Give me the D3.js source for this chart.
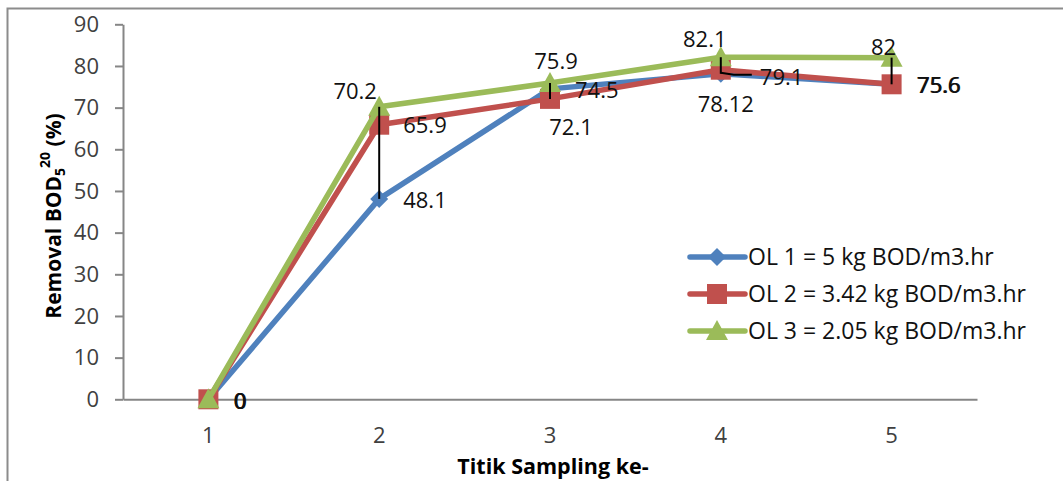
<!DOCTYPE html>
<html>
<head>
<meta charset="utf-8">
<script src="https://cdn.jsdelivr.net/npm/d3@7"></script>
<style>
  html, body { margin: 0; padding: 0; background: #fff; }
  svg { display: block; font-family: "Open Sans", "DejaVu Sans", sans-serif; }
</style>
</head>
<body>
<svg id="chart" width="1063" height="481"></svg>
<script>
// Sampling points (x categories)
const categories = ["1", "2", "3", "4", "5"];
// Removal BOD5^20 (%) per organic loading
const ol1 = [0, 48.1, 74.5, 78.12, 75.6];
const ol2 = [0, 65.9, 72.1, 79.1, 75.6];
const ol3 = [0, 70.2, 75.9, 82.1, 82];
const seriesNames = [
  "OL 1 = 5 kg BOD/m3.hr",
  "OL 2 = 3.42 kg BOD/m3.hr",
  "OL 3 = 2.05 kg BOD/m3.hr"
];
const yTicks = [0, 10, 20, 30, 40, 50, 60, 70, 80, 90];

// Label placement per point: [anchor, dx, dy] relative to the marker
const labelPlacement = [
  [["start", 26, 10], ["start", 24, 9], ["start", 25, 9], ["middle", 5, 38], ["start", 26, 9]],
  [["start", 25, 10], ["start", 24, 8], ["middle", 21, 36], ["start", 39, 15], ["start", 25, 9]],
  [["start", 25, 10], ["middle", -24, -8], ["middle", 6, -14], ["middle", -16, -10], ["middle", -8, -3]]
];

const series = [
  { name: seriesNames[0], values: ol1, color: "#4F81BD", marker: "diamond" },
  { name: seriesNames[1], values: ol2, color: "#C0504D", marker: "square" },
  { name: seriesNames[2], values: ol3, color: "#9BBB59", marker: "triangle" }
];

const svg = d3.select("#chart");
const axisColor = "#868686";

// Outer chart border
svg.append("rect")
  .attr("x", 7.5).attr("y", 8.5)
  .attr("width", 1062).attr("height", 480)
  .attr("fill", "none").attr("stroke", "#8c8c8c").attr("stroke-width", 2);

const x = d3.scaleBand().domain(categories).range([123, 977]).padding(0);
const cx = c => x(c) + x.bandwidth() / 2;
const y = d3.scaleLinear().domain([0, 90]).range([399.3, 24.3]);

// Y axis
const yAxis = svg.append("g")
  .attr("transform", "translate(123,0)")
  .call(d3.axisLeft(y).tickValues(yTicks).tickSize(8).tickSizeOuter(0).tickPadding(16));
yAxis.select(".domain").attr("stroke", axisColor).attr("stroke-width", 2);
yAxis.selectAll(".tick line").attr("stroke", axisColor).attr("stroke-width", 2);
yAxis.selectAll(".tick text")
  .attr("font-size", 22).attr("fill", "#404040")
  .attr("font-family", "'Open Sans', sans-serif");

// X axis
const xAxis = svg.append("g")
  .attr("transform", "translate(0," + y(0) + ")")
  .call(d3.axisBottom(x).tickSize(0).tickSizeOuter(0).tickPadding(28));
xAxis.select(".domain").attr("stroke", axisColor).attr("stroke-width", 2);
xAxis.selectAll(".tick text")
  .attr("font-size", 22).attr("fill", "#404040")
  .attr("font-family", "'Open Sans', sans-serif");

// Axis titles
svg.append("text")
  .attr("x", 553).attr("y", 474)
  .attr("text-anchor", "middle")
  .attr("font-size", 21.5).attr("font-weight", "bold").attr("fill", "#000")
  .text("Titik Sampling ke-");

const yTitle = svg.append("text")
  .attr("transform", "translate(61,216) rotate(-90)")
  .attr("text-anchor", "middle")
  .attr("font-size", 21).attr("font-weight", "bold").attr("fill", "#000");
yTitle.append("tspan").text("Removal BOD");
yTitle.append("tspan").attr("font-size", 14).attr("dy", 4).text("5");
yTitle.append("tspan").attr("font-size", 14).attr("dy", -15).text("20");
yTitle.append("tspan").attr("dy", 11).text(" (%)");

// Marker shapes
function markerPath(type) {
  if (type === "diamond") return "M0,-9L9,0L0,9L-9,0Z";
  if (type === "square") return "M-10,-10H10V10H-10Z";
  return "M0,-11L11,9H-11Z";
}

// High-low lines between series at each sampling point
const hiLo = categories.map((c, i) => {
  const vals = series.map(s => s.values[i]);
  return { c, hi: d3.max(vals), lo: d3.min(vals) };
});

const line = d3.line().x((d, i) => cx(categories[i])).y(d => y(d));

// Lines and markers, drawn series by series
series.forEach(s => {
  const g = svg.append("g");
  g.append("path")
    .attr("d", line(s.values))
    .attr("fill", "none")
    .attr("stroke", s.color)
    .attr("stroke-width", 5.5)
    .attr("stroke-linejoin", "round");
  g.selectAll("path.m")
    .data(s.values)
    .join("path")
    .attr("class", "m")
    .attr("transform", (d, i) => `translate(${cx(categories[i])},${y(d)})`)
    .attr("d", markerPath(s.marker))
    .attr("fill", s.color);
});

svg.append("g").selectAll("line")
  .data(hiLo)
  .join("line")
  .attr("x1", d => cx(d.c)).attr("x2", d => cx(d.c))
  .attr("y1", d => y(d.hi)).attr("y2", d => y(d.lo))
  .attr("stroke", "#000").attr("stroke-width", 2);

// Leader line for the moved OL 2 label at point 4
{
  const px = cx(categories[3]), py = y(ol2[3]);
  svg.append("path")
    .attr("d", `M${px},${py + 3}L${px + 13},${py + 5}H${px + 31}`)
    .attr("fill", "none").attr("stroke", "#000").attr("stroke-width", 2);
}

// Data labels
series.forEach((s, si) => {
  svg.append("g").selectAll("text")
    .data(s.values)
    .join("text")
    .attr("x", (d, i) => cx(categories[i]) + labelPlacement[si][i][1])
    .attr("y", (d, i) => y(d) + labelPlacement[si][i][2])
    .attr("text-anchor", (d, i) => labelPlacement[si][i][0])
    .attr("font-size", 22)
    .attr("fill", "#111")
    .text(d => d);
});

// Legend
const legend = svg.append("g");
series.forEach((s, i) => {
  const ly = 257 + i * 37;
  legend.append("line")
    .attr("x1", 690).attr("x2", 745).attr("y1", ly).attr("y2", ly)
    .attr("stroke", s.color).attr("stroke-width", 5.5).attr("stroke-linecap", "round");
  legend.append("path")
    .attr("transform", `translate(717,${ly})`)
    .attr("d", markerPath(s.marker))
    .attr("fill", s.color);
  legend.append("text")
    .attr("x", 748).attr("y", ly + 8)
    .attr("font-size", 23).attr("fill", "#111")
    .text(s.name);
});
</script>
</body>
</html>
